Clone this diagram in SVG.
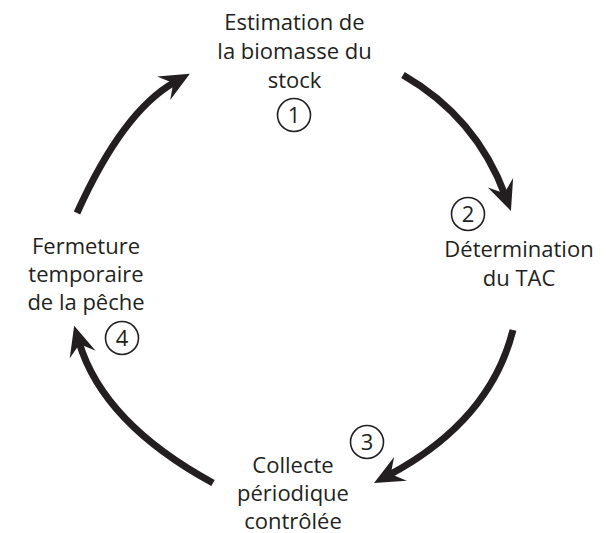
<svg xmlns="http://www.w3.org/2000/svg" width="608" height="533" viewBox="0 0 608 533">
<style>
text{font-family:"Open Sans","Liberation Sans",sans-serif;font-size:22px;fill:#231f20;text-anchor:middle}
.num{fill:none;stroke:#231f20;stroke-width:1.6}
.arrow{fill:none;stroke:#231f20;stroke-width:7;marker-end:url(#ah)}
</style>
<defs>
<marker id="ah" markerUnits="userSpaceOnUse" viewBox="-32 -16 34 32" markerWidth="34" markerHeight="32" refX="-17" refY="0" orient="auto">
<path d="M0,0 L-30,-13.5 L-19,0 L-30,13.5 Z" fill="#231f20"/>
</marker>
</defs>
<rect width="608" height="533" fill="#fff"/>
<g id="connectors">
<path class="arrow" d="M403,75 Q476,117 505,195"/>
<path class="arrow" d="M513,330 Q490,421 389,475"/>
<path class="arrow" d="M213,483 Q103,423 79,342"/>
<path class="arrow" d="M77,213 Q123,111 175,82"/>
</g>
<g id="node1">
<text x="294.5" y="29.5">Estimation de</text>
<text x="294.5" y="58.5">la biomasse du</text>
<text x="294.5" y="87.5">stock</text>
<circle class="num" cx="294" cy="115" r="16.5"/>
<text x="294" y="123">1</text>
</g>
<g id="node2">
<circle class="num" cx="468" cy="214" r="16.5"/>
<text x="468" y="222">2</text>
<text x="519" y="256.5">Détermination</text>
<text x="519" y="286">du TAC</text>
</g>
<g id="node3">
<circle class="num" cx="367" cy="442" r="16.5"/>
<text x="367" y="450">3</text>
<text x="293" y="472.5">Collecte</text>
<text x="293" y="500.5">périodique</text>
<text x="293" y="528.5">contrôlée</text>
</g>
<g id="node4">
<text x="86" y="254">Fermeture</text>
<text x="86" y="282">temporaire</text>
<text x="86" y="310">de la pêche</text>
<circle class="num" cx="122" cy="338" r="16.5"/>
<text x="122" y="346">4</text>
</g>
</svg>
